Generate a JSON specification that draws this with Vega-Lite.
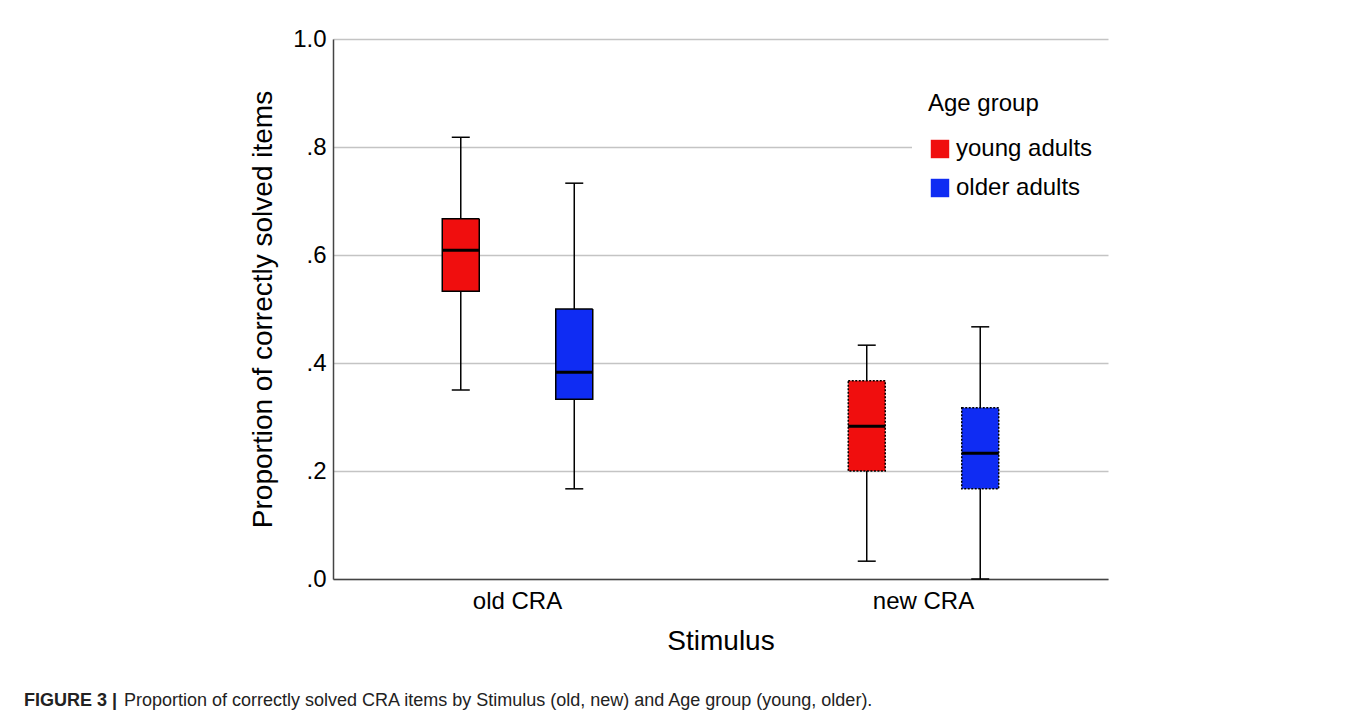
{
  "$schema": "https://vega.github.io/schema/vega-lite/v6.json",
  "width": 775,
  "height": 540,
  "autosize": {"type": "none"},
  "padding": {"left": 333, "top": 39, "right": 250, "bottom": 134},
  "background": "white",
  "config": {
    "font": "Liberation Sans",
    "view": {"stroke": null}
  },
  "title": {
    "text": "FIGURE 3 |",
    "subtitle": "\u200b\u00a0\u00a0\u00a0\u00a0\u00a0\u00a0\u00a0\u00a0\u00a0\u00a0\u00a0\u00a0\u00a0\u00a0\u00a0\u00a0\u00a0\u00a0\u00a0\u00a0Proportion of correctly solved CRA items by Stimulus (old, new) and Age group (young, older).",
    "orient": "bottom",
    "anchor": "start",
    "frame": "group",
    "dx": -309,
    "offset": 37,
    "font": "Liberation Sans",
    "fontSize": 18,
    "fontWeight": "bold",
    "color": "#222222",
    "subtitleFont": "Liberation Sans",
    "subtitleFontSize": 18,
    "subtitleColor": "#222222",
    "subtitlePadding": -18
  },
  "data": {
    "values": [
      {"stimulus": "old CRA", "age": "young adults", "min": 0.35, "q1": 0.533, "median": 0.609, "q3": 0.667, "max": 0.818},
      {"stimulus": "old CRA", "age": "older adults", "min": 0.167, "q1": 0.333, "median": 0.383, "q3": 0.5, "max": 0.733},
      {"stimulus": "new CRA", "age": "young adults", "min": 0.033, "q1": 0.2, "median": 0.283, "q3": 0.367, "max": 0.433},
      {"stimulus": "new CRA", "age": "older adults", "min": 0.0, "q1": 0.167, "median": 0.233, "q3": 0.317, "max": 0.467}
    ]
  },
  "encoding": {
    "x": {
      "field": "stimulus",
      "type": "nominal",
      "sort": ["old CRA", "new CRA"],
      "scale": {"paddingInner": 0.3, "paddingOuter": 0.1045},
      "axis": {
        "title": "Stimulus",
        "labelAngle": 0,
        "ticks": false,
        "grid": false,
        "labelFontSize": 24,
        "labelColor": "black",
        "labelPadding": 10,
        "titleFontSize": 28,
        "titleFontWeight": "normal",
        "titleColor": "black",
        "titlePadding": 14,
        "domainColor": "#444444",
        "domainWidth": 1.5
      }
    },
    "xOffset": {
      "field": "age",
      "type": "nominal",
      "sort": ["young adults", "older adults"],
      "scale": {"paddingInner": 0, "paddingOuter": 0.252}
    }
  },
  "layer": [
    {
      "mark": {"type": "rule", "color": "black", "strokeWidth": 1.5},
      "encoding": {
        "y": {
          "field": "min",
          "type": "quantitative",
          "scale": {"domain": [0, 1], "nice": false},
          "axis": {
            "title": "Proportion of correctly solved items",
            "values": [0, 0.2, 0.4, 0.6, 0.8, 1],
            "labelExpr": "datum.value >= 1 ? '1.0' : slice(format(datum.value, '.1f'), 1)",
            "ticks": false,
            "grid": true,
            "gridColor": "#c4c4c4",
            "gridWidth": 1.5,
            "labelFontSize": 24,
            "labelColor": "black",
            "labelPadding": 7,
            "titleFontSize": 28,
            "titleFontWeight": "normal",
            "titleColor": "black",
            "titlePadding": 15,
            "domainColor": "#444444",
            "domainWidth": 1.5
          }
        },
        "y2": {"field": "max"}
      }
    },
    {
      "mark": {"type": "tick", "color": "black", "size": 18, "thickness": 1.5, "opacity": 1},
      "encoding": {"y": {"field": "min", "type": "quantitative"}}
    },
    {
      "mark": {"type": "tick", "color": "black", "size": 18, "thickness": 1.5, "opacity": 1},
      "encoding": {"y": {"field": "max", "type": "quantitative"}}
    },
    {
      "mark": {"type": "bar", "size": 37, "stroke": "black", "strokeWidth": 1.5, "opacity": 1},
      "encoding": {
        "y": {"field": "q1", "type": "quantitative"},
        "y2": {"field": "q3"},
        "color": {
          "field": "age",
          "type": "nominal",
          "scale": {"domain": ["young adults", "older adults"], "range": ["#f00e0e", "#0f2cf3"]},
          "legend": {
            "title": "Age group",
            "orient": "none",
            "legendX": 579,
            "legendY": 37,
            "padding": 16,
            "fillColor": "white",
            "symbolType": "square",
            "symbolSize": 340,
            "symbolStrokeWidth": 0,
            "symbolOpacity": 1,
            "labelFontSize": 24,
            "labelColor": "black",
            "labelOffset": 4,
            "titleFontSize": 24,
            "titleFontWeight": "normal",
            "titleColor": "black",
            "titlePadding": 21,
            "rowPadding": 15
          }
        },
        "strokeDash": {
          "field": "stimulus",
          "type": "nominal",
          "scale": {"domain": ["old CRA", "new CRA"], "range": [[1, 0], [2, 1.5]]},
          "legend": null
        }
      }
    },
    {
      "mark": {"type": "tick", "color": "black", "size": 37, "thickness": 3, "opacity": 1},
      "encoding": {"y": {"field": "median", "type": "quantitative"}}
    }
  ]
}
